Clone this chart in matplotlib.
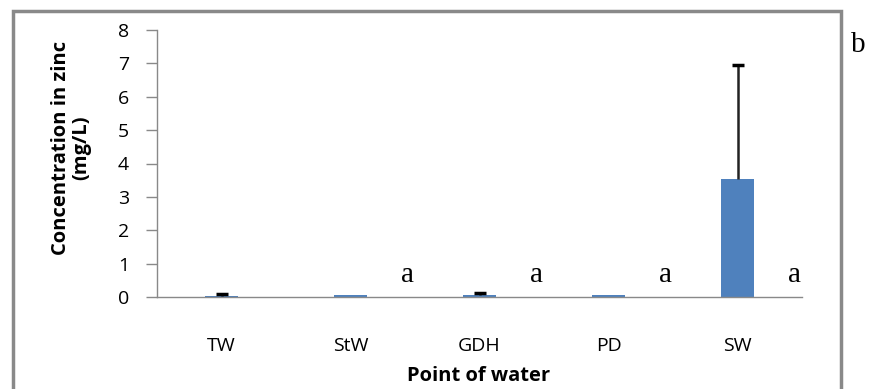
import matplotlib.pyplot as plt
from matplotlib.patches import Rectangle

# zinc concentration by water point (mg/L)
points = ["TW", "StW", "GDH", "PD", "SW"]
means = [0.03, 0.06, 0.07, 0.05, 3.55]
errs = [0.07, 0.0, 0.06, 0.0, 3.4]
letters = ["", "a", "a", "a", "a"]
yticks = [0, 1, 2, 3, 4, 5, 6, 7, 8]

plt.rcParams["font.family"] = ["Open Sans", "DejaVu Sans"]
grey = "#898989"

fig = plt.figure(figsize=(8.75, 3.89), dpi=100)
ax = fig.add_axes([157 / 875, 1 - 297 / 389, 645 / 875, 267 / 389])

x = list(range(len(points)))
ax.bar(x, means, width=0.25, color="#4f81bd", zorder=2)
# Excel style: only the plus side of the error bar
for xi, m, e in zip(x, means, errs):
    if e > 0:
        ax.vlines(xi, m, m + e, color="#222222", linewidth=1.8, zorder=3)
        ax.plot(xi, m + e, marker="_", markersize=8, markeredgewidth=2.5,
                color="black", zorder=4)
for xi, t in zip(x, letters):
    if t:
        ax.text(xi + 0.44, 0.45, t, family="Liberation Serif", fontsize=21,
                ha="center", va="baseline")

ax.set_xlim(-0.5, 4.5)
ax.set_ylim(0, 8)
ax.set_yticks(yticks)
ax.set_xticks(x)
ax.set_xticklabels(points)
ax.tick_params(axis="x", length=0, pad=29, labelsize=14)
ax.tick_params(axis="y", length=8, width=1, color=grey, pad=12, labelsize=14)
for s in ["top", "right"]:
    ax.spines[s].set_visible(False)
for s in ["left", "bottom"]:
    ax.spines[s].set_color(grey)
    ax.spines[s].set_linewidth(1)

fig.text(71 / 875, 1 - 148 / 389, "Concentration in zinc\n(mg/L)", rotation=90,
         ha="center", va="center", fontsize=14.5, fontweight="bold", linespacing=1.05)
fig.text(479 / 875, 1 - 376 / 389, "Point of water", ha="center", va="center",
         fontsize=14.5, fontweight="bold")
fig.text(858 / 875, 1 - 45 / 389, "b", family="Liberation Serif", fontsize=21,
         ha="center", va="center")

# outer chart frame
fig.patches.append(Rectangle((13 / 875, -0.05), 828 / 875, 1.05 - 11 / 389,
                             transform=fig.transFigure, fill=False,
                             edgecolor=grey, linewidth=2.5))

fig.savefig("out.png", dpi=100)
